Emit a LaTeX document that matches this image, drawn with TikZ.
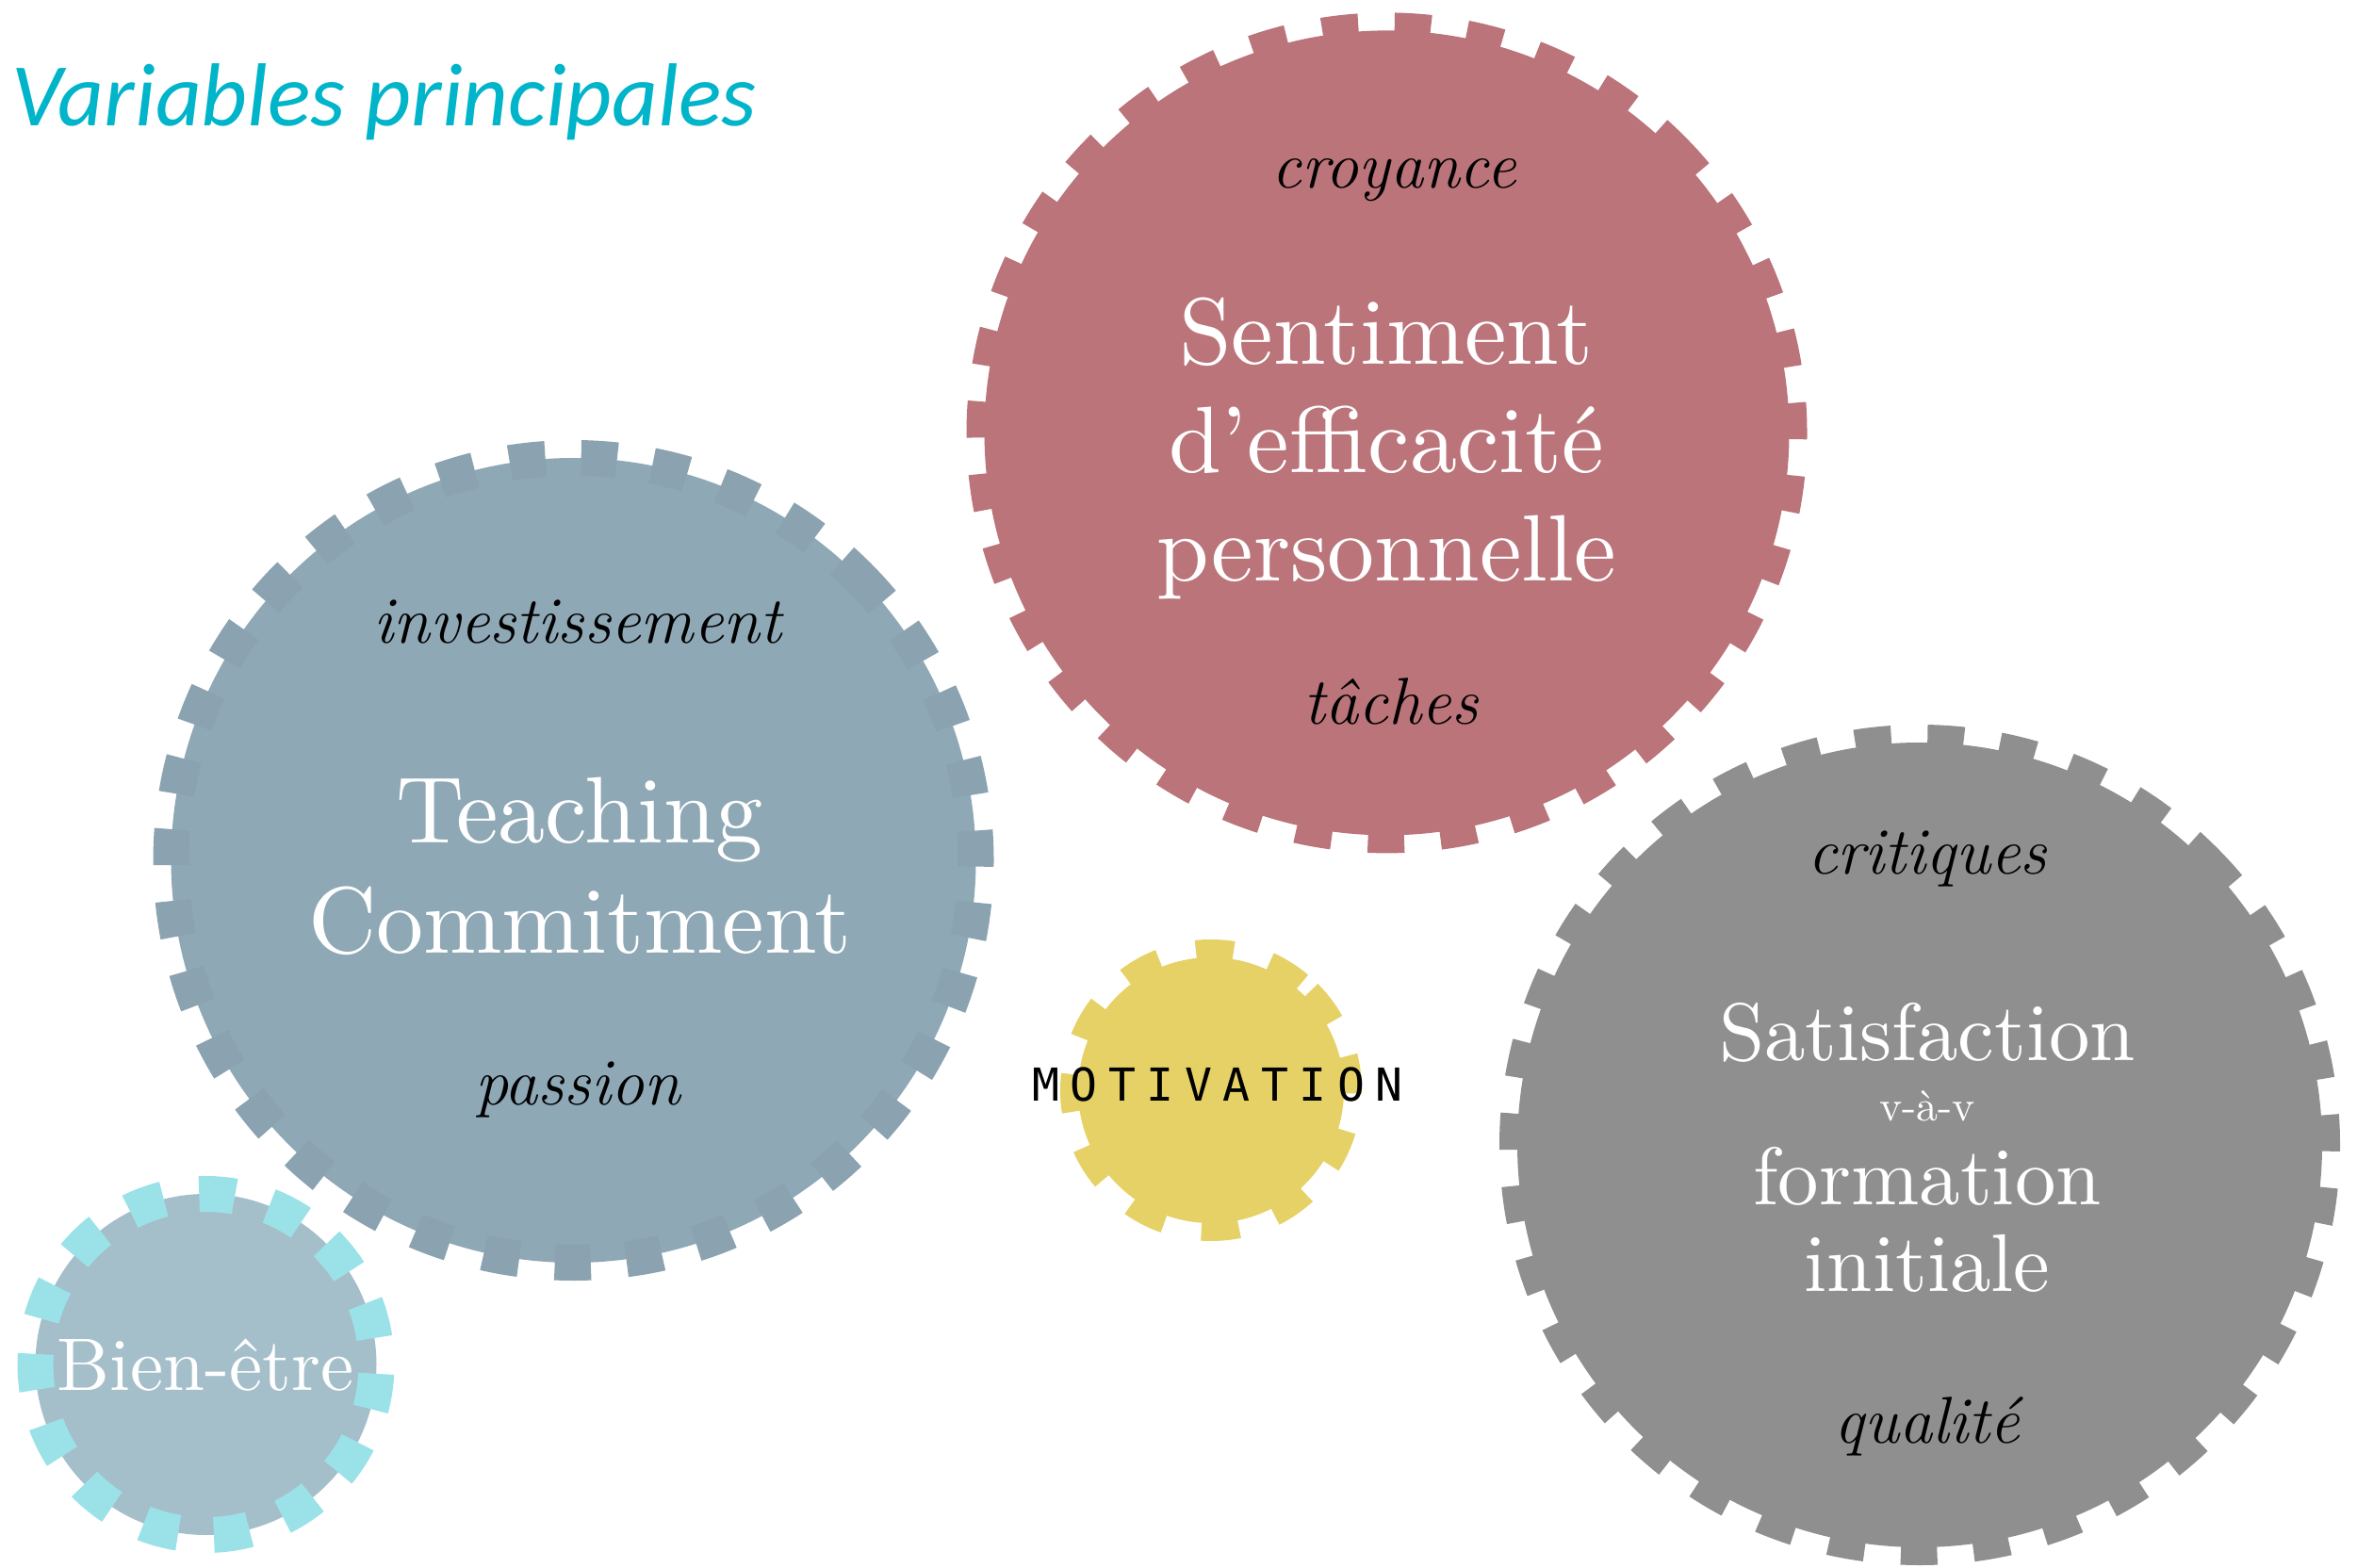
\documentclass[tikz,border=0pt]{standalone}
\usepackage{fontspec}
\usepackage{tikz}
\usetikzlibrary{calc}
\newfontfamily\titlefont{Carlito}
\newfontfamily\motfont[LetterSpace=24]{DejaVu Sans Mono}
\newfontfamily\grosfont[Extension=.otf]{lmroman10-regular}
\definecolor{titre}{RGB}{0,180,202}
\definecolor{efficacite}{RGB}{186,116,122}
\definecolor{commit}{RGB}{143,168,181}
\definecolor{commitdent}{RGB}{139,163,176}
\definecolor{satis}{RGB}{143,143,143}
\definecolor{motiv}{RGB}{229,209,101}
\definecolor{bien}{RGB}{165,191,202}
\definecolor{biendent}{RGB}{155,226,232}

\begin{document}
\begin{tikzpicture}[
        gear/.style={line width=0.38cm, dash pattern=on 0.38cm off 0.38cm},
        big/.style={white, align=center, inner sep=0pt, anchor=north},
        mot/.style={font=\itshape\fontsize{20}{24}\selectfont, anchor=base, inner sep=0pt}
    ]
    \useasboundingbox (0,0) rectangle (25.01,-16.64);

    % Titre
    \node[anchor=base west, inner sep=0pt, text=titre, font=\titlefont\itshape\fontsize{27}{32}\selectfont] (titre) at (0.12,-1.34) {Variables principales};

    % Roues
    \coordinate (tc) at (6.085,-9.13);
    \coordinate (sp) at (14.715,-4.594);
    \coordinate (sf) at (20.37,-12.15);
    \coordinate (mv) at (12.85,-11.57);
    \coordinate (be) at (2.185,-14.48);

    \filldraw[gear, fill=commit, draw=commitdent] (tc) ++(45:4.27) arc[start angle=45, delta angle=-360, radius=4.27];
    \filldraw[gear, fill=efficacite, draw=efficacite] (sp) ++(45:4.27) arc[start angle=45, delta angle=-360, radius=4.27];
    \filldraw[gear, fill=satis, draw=satis] (sf) ++(45:4.27) arc[start angle=45, delta angle=-360, radius=4.27];
    \filldraw[gear, fill=motiv, draw=motiv] (mv) ++(45:1.41) arc[start angle=45, delta angle=-360, radius=1.41];
    \filldraw[gear, fill=bien, draw=biendent] (be) ++(45:1.81) arc[start angle=45, delta angle=-360, radius=1.81];

    % Sentiment d'efficacite personnelle
    \node[mot] (croyance) at (14.79,-2.00) {croyance};
    \node[big, font=\grosfont\fontsize{28.5}{32.7}\selectfont] (sep) at (14.71,-3.15) {Sentiment\\d’efficacité\\personnelle};
    \node[mot] (taches) at (14.76,-7.69) {tâches};

    % Teaching Commitment
    \node[mot] (invest) at (6.13,-6.83) {investissement};
    \node[big, font=\grosfont\fontsize{28.5}{33.3}\selectfont] (teach) at (6.15,-8.24) {Teaching\\Commitment};
    \node[mot] (passion) at (6.13,-11.72) {passion};

    % Satisfaction
    \node[mot] (critiques) at (20.45,-9.28) {critiques};
    \node[big, font=\grosfont\fontsize{24.7}{26.2}\selectfont] (satisf) at (20.45,-10.64) {Satisfaction\\[-0.28cm]{\fontsize{13}{15}\selectfont v-à-v}\\[-0.04cm]formation\\initiale};
    \node[mot] (qualite) at (20.45,-15.31) {qualité};

    % Motivation et bien-etre
    \node[anchor=base, inner sep=0pt, font=\motfont\fontsize{13.7}{16}\selectfont] (motivation) at (12.92,-11.68) {MOTIVATION};
    \node[anchor=base, inner sep=0pt, white, font=\grosfont\fontsize{22.5}{27}\selectfont] (bienetre) at (2.18,-14.75) {Bien-être};
\end{tikzpicture}
\end{document}
